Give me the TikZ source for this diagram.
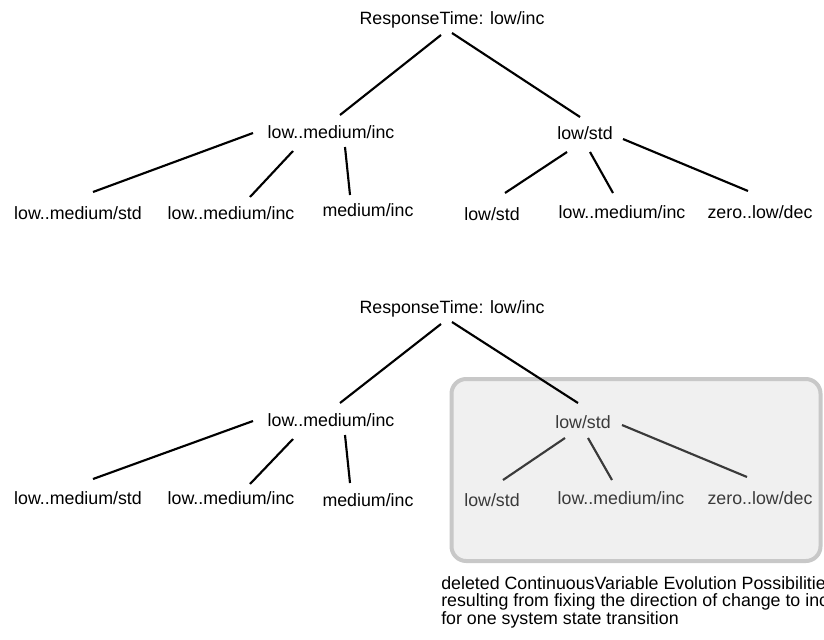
\documentclass[tikz,border=0pt]{standalone}
\usepackage{fontspec}
\setmainfont{Liberation Sans}
\definecolor{boxfill}{HTML}{F0F0F0}
\definecolor{boxedge}{HTML}{C8C8C8}
\definecolor{dimtext}{HTML}{3A3A3A}
\begin{document}
\begin{tikzpicture}[x=0.75pt,y=-0.75pt,
  lbl/.style={font=\fontsize{13.35}{16}\selectfont, inner sep=0pt,
              text height=9.75pt, text depth=0pt},
  dimlbl/.style={lbl, text=dimtext},
  capt/.style={font=\fontsize{13.35}{16}\selectfont, inner sep=0pt, anchor=base west},
  branch/.style={line width=1.6pt, black},
  dimbranch/.style={line width=1.6pt, dimtext}]
\useasboundingbox (0,0) rectangle (824,639);
\fill[white] (0,0) rectangle (824,639);

% highlighted sub-tree area
\draw[line width=3pt, boxedge, fill=boxfill, rounded corners=11pt]
  (451.5,379) rectangle (820.5,561);

% ---------- upper tree ----------
\node[lbl] (R1) at (452,18)  {ResponseTime: low/inc};
\node[lbl] (A1) at (331,132) {low..medium/inc};
\node[lbl] (B1) at (585,133) {low/std};
\node[lbl] (a1) at (78,213)  {low..medium/std};
\node[lbl] (a2) at (231,213) {low..medium/inc};
\node[lbl] (a3) at (368,210) {medium/inc};
\node[lbl] (b1) at (492,214) {low/std};
\node[lbl] (b2) at (622,212) {low..medium/inc};
\node[lbl] (b3) at (760,212) {zero..low/dec};

\draw[branch] ([shift={(-11,17)}]R1.center) -- ([shift={(9,-17)}]A1.center);
\draw[branch] ([shift={(0,15)}]R1.center)   -- ([shift={(-5,-16)}]B1.center);
\draw[branch] ([shift={(-78,1)}]A1.center)  -- ([shift={(15,-21)}]a1.center);
\draw[branch] ([shift={(-38,19)}]A1.center) -- ([shift={(19,-16)}]a2.center);
\draw[branch] ([shift={(14,15)}]A1.center)  -- ([shift={(-18,-15)}]a3.center);
\draw[branch] ([shift={(-18,19)}]B1.center) -- ([shift={(13,-21)}]b1.center);
\draw[branch] ([shift={(5,19)}]B1.center)   -- ([shift={(-9,-19)}]b2.center);
\draw[branch] ([shift={(38,6)}]B1.center)   -- ([shift={(-12,-21)}]b3.center);

% ---------- lower tree ----------
\node[lbl] (R2) at (452,307) {ResponseTime: low/inc};
\node[lbl] (A2) at (331,420) {low..medium/inc};
\node[dimlbl] (B2) at (583,422) {low/std};
\node[lbl] (c1) at (78,498)  {low..medium/std};
\node[lbl] (c2) at (231,498) {low..medium/inc};
\node[lbl] (c3) at (368,500) {medium/inc};
\node[dimlbl] (d1) at (492,500) {low/std};
\node[dimlbl] (d2) at (621,498) {low..medium/inc};
\node[dimlbl] (d3) at (760,498) {zero..low/dec};

\draw[branch] ([shift={(-11,17)}]R2.center) -- ([shift={(9,-17)}]A2.center);
\draw[branch] ([shift={(0,15)}]R2.center)   -- ([shift={(-5,-19)}]B2.center);
\draw[branch] ([shift={(-78,1)}]A2.center)  -- ([shift={(15,-19)}]c1.center);
\draw[branch] ([shift={(-38,19)}]A2.center) -- ([shift={(19,-14)}]c2.center);
\draw[branch] ([shift={(14,15)}]A2.center)  -- ([shift={(-18,-17)}]c3.center);
\draw[dimbranch] ([shift={(-18,16)}]B2.center) -- ([shift={(11,-20)}]d1.center);
\draw[dimbranch] ([shift={(5,16)}]B2.center)   -- ([shift={(-9,-18)}]d2.center);
\draw[dimbranch] ([shift={(39,3)}]B2.center)   -- ([shift={(-13,-21)}]d3.center);

% ---------- caption ----------
\node[capt] (cap1) at (441,589)   {deleted ContinuousVariable Evolution Possibilities};
\node[capt] (cap2) at (441,606.5) {resulting from fixing the direction of change to inc};
\node[capt] (cap3) at (441,624)   {for one system state transition};
\end{tikzpicture}
\end{document}
